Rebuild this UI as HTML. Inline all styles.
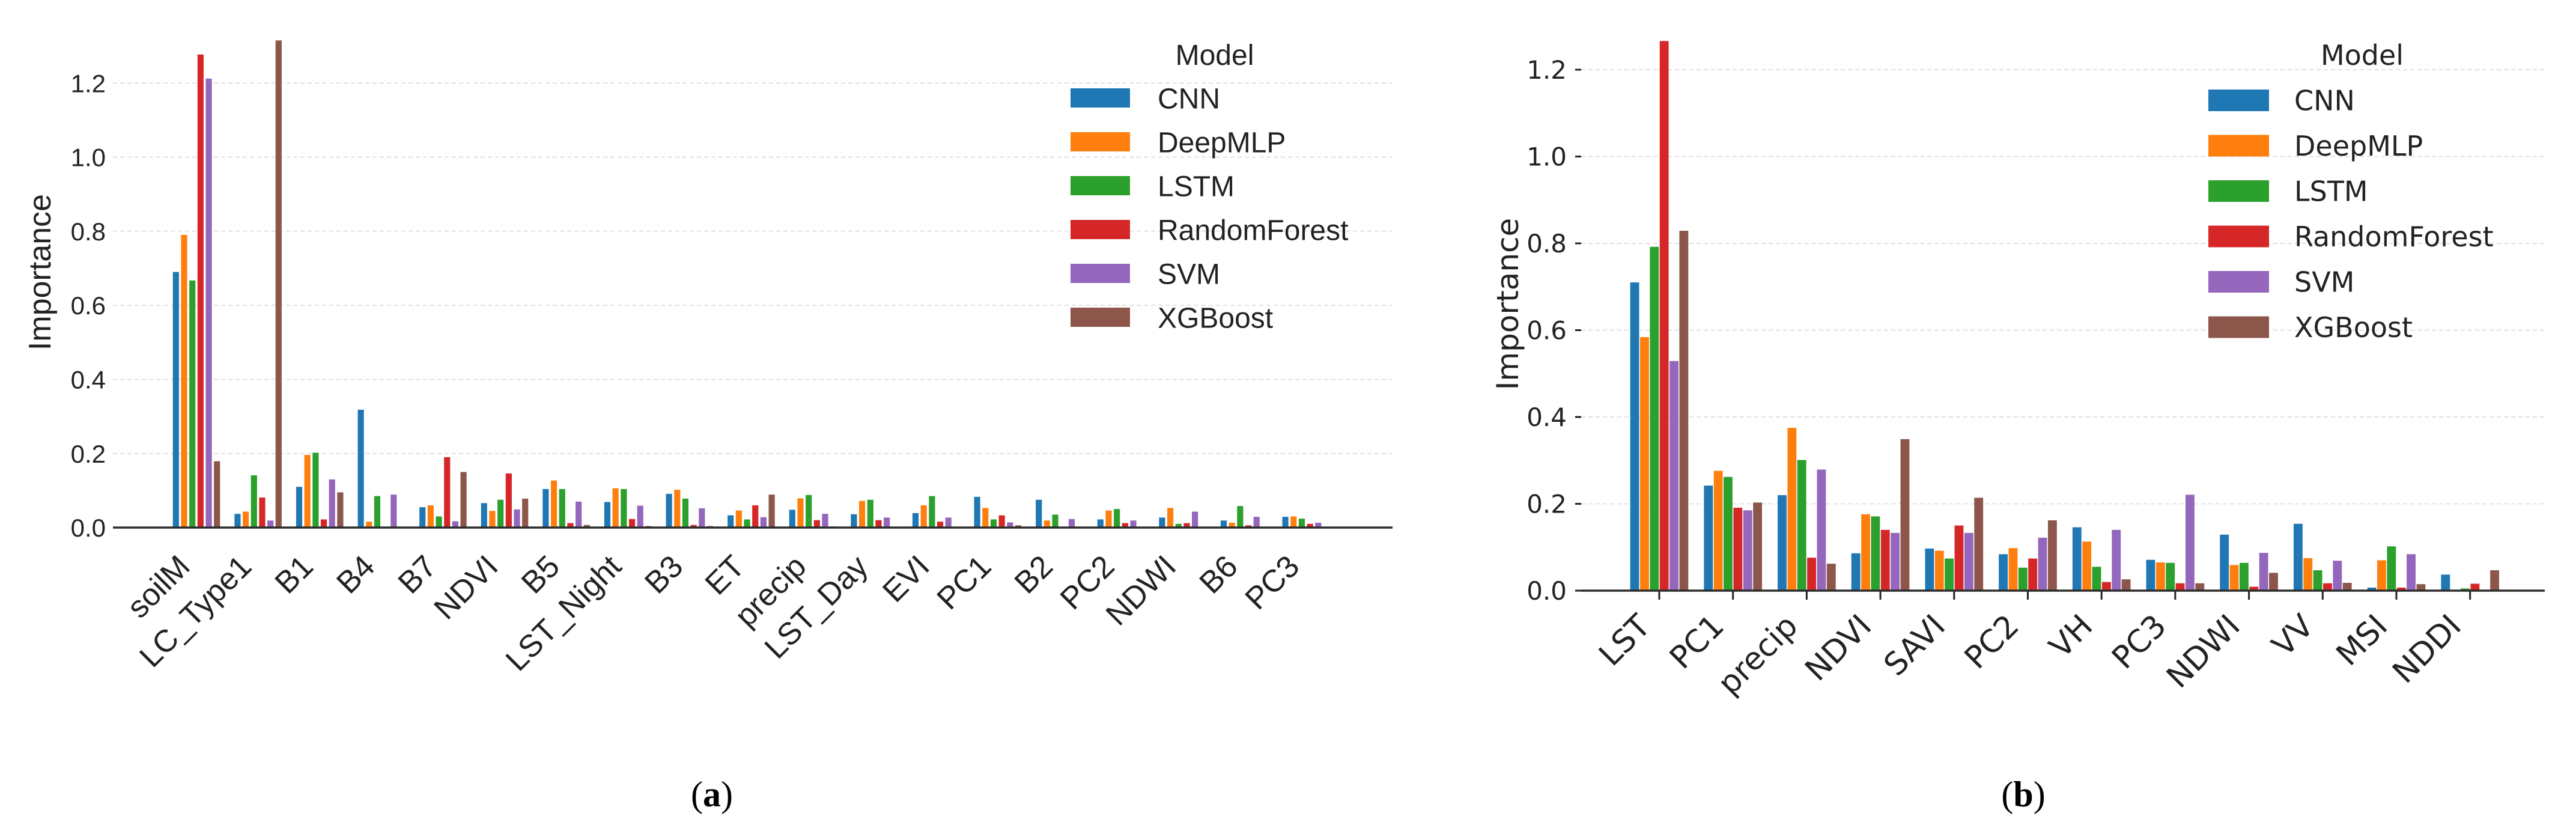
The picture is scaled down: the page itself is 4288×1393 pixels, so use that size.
<!DOCTYPE html>
<html><head><meta charset="utf-8"><style>
html,body{margin:0;padding:0;background:#fff;}
svg{display:block;}
</style></head><body>
<svg id="chart" width="4288" height="1393" viewBox="0 0 4288 1393" xmlns="http://www.w3.org/2000/svg">
<g id="pa"></g>
<g id="pb"></g>
<text x="1185" y="1342" text-anchor="middle" font-family="Liberation Serif, serif" font-size="60">(<tspan font-weight="bold">a</tspan>)</text>
<text x="3368" y="1342" text-anchor="middle" font-family="Liberation Serif, serif" font-size="60">(<tspan font-weight="bold">b</tspan>)</text>
</svg>
<script>
const models = ["CNN","DeepMLP","LSTM","RandomForest","SVM","XGBoost"];
const colors = ["#1f77b4","#ff7f0e","#2ca02c","#d62728","#9467bd","#8c564b"];
const yTicks = [0.0,0.2,0.4,0.6,0.8,1.0,1.2];
const yTickLabels = ["0.0","0.2","0.4","0.6","0.8","1.0","1.2"];

const catsA = ["soilM","LC_Type1","B1","B4","B7","NDVI","B5","LST_Night","B3","ET","precip","LST_Day","EVI","PC1","B2","PC2","NDWI","B6","PC3"];
const cnnA  = [0.69,0.037,0.11,0.318,0.055,0.066,0.104,0.069,0.091,0.033,0.048,0.036,0.039,0.083,0.075,0.022,0.027,0.019,0.029];
const mlpA  = [0.79,0.043,0.196,0.016,0.06,0.045,0.127,0.106,0.102,0.046,0.079,0.072,0.06,0.053,0.019,0.046,0.053,0.013,0.03];
const lstmA = [0.667,0.141,0.202,0.085,0.03,0.075,0.104,0.104,0.078,0.022,0.088,0.075,0.085,0.022,0.035,0.05,0.01,0.058,0.024];
const rfA   = [1.277,0.081,0.022,0.002,0.19,0.146,0.012,0.023,0.007,0.06,0.02,0.02,0.016,0.033,0.002,0.012,0.012,0.006,0.01];
const svmA  = [1.212,0.019,0.13,0.089,0.017,0.049,0.07,0.059,0.052,0.028,0.037,0.027,0.027,0.014,0.023,0.019,0.043,0.029,0.013];
const xgbA  = [0.179,1.315,0.095,0,0.15,0.078,0.007,0.004,0.004,0.089,0.003,0,0,0.006,0,0,0,0,0];

const catsB = ["LST","PC1","precip","NDVI","SAVI","PC2","VH","PC3","NDWI","VV","MSI","NDDI"];
const cnnB  = [0.71,0.242,0.22,0.086,0.097,0.084,0.146,0.071,0.129,0.154,0.007,0.037];
const mlpB  = [0.584,0.276,0.375,0.176,0.092,0.098,0.113,0.065,0.059,0.075,0.07,0];
const lstmB = [0.792,0.262,0.301,0.171,0.074,0.053,0.055,0.064,0.064,0.047,0.102,0.005];
const rfB   = [1.266,0.191,0.076,0.14,0.15,0.074,0.02,0.017,0.009,0.017,0.007,0.016];
const svmB  = [0.529,0.185,0.279,0.133,0.133,0.122,0.14,0.221,0.087,0.069,0.084,0];
const xgbB  = [0.829,0.203,0.062,0.349,0.214,0.162,0.026,0.017,0.041,0.018,0.015,0.047];

const NS="http://www.w3.org/2000/svg";
function mk(parent,tag,attrs,text){const e=document.createElementNS(NS,tag);for(const k in attrs)e.setAttribute(k,attrs[k]);if(text!==undefined)e.textContent=text;parent.appendChild(e);return e;}

function panel(g,cfg,cats,series){
  const y=v=>cfg.y0-v*cfg.pxPerUnit;
  const x=i=>cfg.firstX+i*cfg.step;
  yTicks.forEach((t,i)=>{
    if(t>0){const l=mk(g,'line',{x1:cfg.x0,x2:cfg.x1,y1:y(t),y2:y(t),stroke:'#e2e2e2','stroke-width':2,'stroke-dasharray':'7,5'});
    
    }
    const tl=mk(g,'text',{x:cfg.x0-cfg.labelGap,y:y(t)+cfg.tickFont*0.36,'text-anchor':'end','font-family':cfg.font,'font-size':cfg.tickFont,fill:'#222'},yTickLabels[i]);
    
    
    if(cfg.yTickMarks){const tm=mk(g,'line',{x1:cfg.x0-10,x2:cfg.x0,y1:y(t),y2:y(t),stroke:'#222','stroke-width':3});
    
    }
  });
  const bw=cfg.step*0.8/6;
  cats.forEach((c,i)=>{
    series.forEach((s,j)=>{
      const v=s[i];
      const bx=x(i)-cfg.step*0.4+j*bw+cfg.gapBar/2;
      const r=mk(g,'rect',{x:bx,y:y(v),width:bw-cfg.gapBar,height:Math.max(0,cfg.y0-y(v)),fill:colors[j]});
      
      
    });
    if(cfg.xTickMarks){const tm=mk(g,'line',{x1:x(i),x2:x(i),y1:cfg.y0,y2:cfg.y0+15,stroke:'#222','stroke-width':3});
    
    }
    const lx=x(i)+cfg.lblDx, ly=cfg.y0+cfg.lblDy;
    const t=mk(g,'text',{x:lx,y:ly,'text-anchor':'end','font-family':cfg.font,'font-size':cfg.xFont,fill:'#222',transform:`rotate(-45 ${lx} ${ly})`},c);
    
    
  });
  const ax=mk(g,'line',{x1:cfg.x0,x2:cfg.x1,y1:cfg.y0,y2:cfg.y0,stroke:'#2b2b2b','stroke-width':3.5});
  
  
  const yl=mk(g,'text',{x:cfg.ylX,y:cfg.ylY,'text-anchor':'middle','font-family':cfg.font,'font-size':cfg.ylFont,fill:'#222',transform:`rotate(-90 ${cfg.ylX} ${cfg.ylY})`},'Importance');
  
  
  const lg=mk(g,'g',{});
  
  
  const tt=mk(lg,'text',{x:cfg.legTitleX,y:cfg.legTitleY,'text-anchor':'middle','font-family':cfg.font,'font-size':cfg.legFont,fill:'#222'},'Model');
  
  
  models.forEach((m,j)=>{
    const py=cfg.legY+j*cfg.legStep;
    const p=mk(lg,'rect',{x:cfg.legX,y:py,width:cfg.legW,height:cfg.legH,fill:colors[j]});
    
    
    const lt=mk(lg,'text',{x:cfg.legTextX,y:py+cfg.legH/2+cfg.legFont*0.36,'font-family':cfg.font,'font-size':cfg.legFont,fill:'#222'},m);
    
    
  });
}

panel(document.getElementById('pa'),{
  y0:878,pxPerUnit:616.5,x0:188,x1:2318,firstX:327,step:102.6,gapBar:3.5,
  font:'Liberation Sans, DejaVu Sans, sans-serif',tickFont:42,xFont:52,ylFont:52,legFont:48,
  labelGap:12,yTickMarks:false,xTickMarks:false,lblDx:-8,lblDy:68,
  ylX:84,ylY:453,legTitleX:2022,legTitleY:108,legX:1782,legY:147,legW:99,legH:32,legStep:73,legTextX:1927
},catsA,[cnnA,mlpA,lstmA,rfA,svmA,xgbA]);

panel(document.getElementById('pb'),{
  y0:983,pxPerUnit:722.5,x0:2632,x1:4236,firstX:2762,step:122.7,gapBar:1.5,
  font:'DejaVu Sans, Liberation Sans, sans-serif',tickFont:42,xFont:52,ylFont:50,legFont:46,
  labelGap:24,yTickMarks:true,xTickMarks:true,lblDx:-12,lblDy:62,
  ylX:2527,ylY:506,legTitleX:3932,legTitleY:108,legX:3676,legY:149,legW:101,legH:36,legStep:75.5,legTextX:3819
},catsB,[cnnB,mlpB,lstmB,rfB,svmB,xgbB]);
</script>
</body></html>
